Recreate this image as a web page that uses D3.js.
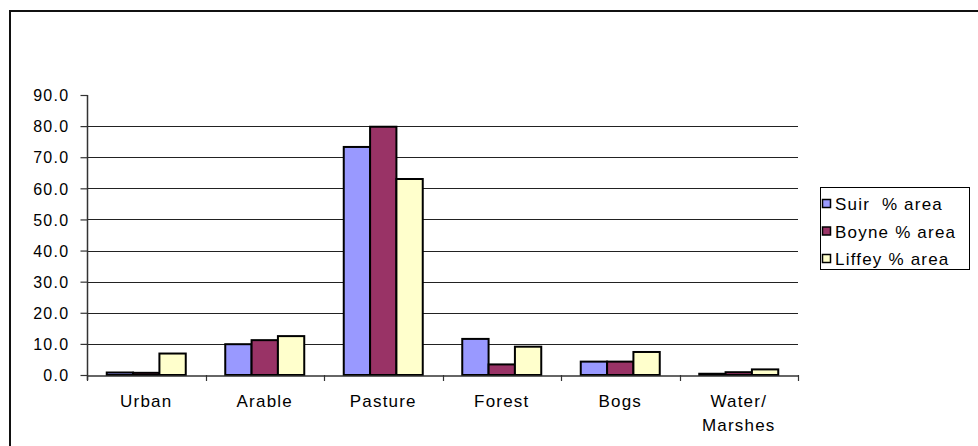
<!DOCTYPE html>
<html lang="en">
<head>
    <meta charset="UTF-8">
    <title>land use</title>
    <style>
        body{
            margin:0px;
            background-color: #fff;
        }
        svg{ display:block; }
        text{ font-family: "Liberation Sans", Arial, sans-serif; fill:#000; }
    </style>
</head>
<body>
    <svg></svg>
    <script src="https://d3js.org/d3.v7.min.js"></script>
    <script>
        // Data
        var categories = ["Urban", "Arable", "Pasture", "Forest", "Bogs", "Water/\nMarshes"];
        var seriesNames = ["Suir  % area", "Boyne % area", "Liffey % area"];
        var suir   = [0.8, 9.9, 73.3, 11.6, 4.3, 0.4];
        var boyne  = [0.7, 11.2, 79.8, 3.4, 4.3, 0.9];
        var liffey = [6.9, 12.5, 63.0, 9.1, 7.4, 1.8];
        var yTicks = [0, 10, 20, 30, 40, 50, 60, 70, 80, 90];
        var colors = ["#9999ff", "#993366", "#ffffcc"];

        var series = [suir, boyne, liffey];

        let svg = d3.select("svg")
            .attr("width", 978)
            .attr("height", 446);

        // outer chart frame
        svg.append("rect")
            .attr("x", 10).attr("y", 11)
            .attr("width", 1000).attr("height", 500)
            .attr("fill", "none")
            .attr("stroke", "#111")
            .attr("stroke-width", 2);

        const plotL = 87, plotR = 798, plotT = 95, plotB = 375;

        var x = d3.scaleBand()
            .domain(categories)
            .range([plotL, plotR]);

        var x1 = d3.scaleBand()
            .domain([0, 1, 2])
            .range([0, x.bandwidth()])
            .paddingInner(0)
            .paddingOuter(0.75);

        var y = d3.scaleLinear()
            .domain([0, 90])
            .range([plotB, plotT]);

        // gridlines (none at the top value)
        svg.append("g")
            .selectAll("line")
            .data(yTicks.filter(d => d > 0 && d < 90))
            .enter()
            .append("line")
            .attr("x1", plotL).attr("x2", plotR)
            .attr("y1", d => Math.round(y(d)) + 0.5)
            .attr("y2", d => Math.round(y(d)) + 0.5)
            .attr("stroke", "#222")
            .attr("stroke-width", 1);

        // bars
        var groups = svg.append("g")
            .selectAll("g")
            .data(categories)
            .enter()
            .append("g")
            .attr("transform", d => "translate(" + x(d) + ",0)");

        groups.selectAll("rect")
            .data((d, i) => series.map((s, j) => ({ v: s[i], j: j })))
            .enter()
            .append("rect")
            .attr("x", d => x1(d.j))
            .attr("width", x1.bandwidth())
            .attr("y", d => y(d.v))
            .attr("height", d => plotB - y(d.v))
            .attr("fill", d => colors[d.j])
            .attr("stroke", "#000")
            .attr("stroke-width", 2);

        // y axis
        var yAxis = svg.append("g")
            .attr("transform", "translate(" + (plotL + 0.5) + ",0)")
            .call(d3.axisLeft(y).tickValues(yTicks).tickSize(7).tickPadding(11)
                .tickFormat(d3.format(".1f")));
        yAxis.select(".domain").attr("stroke", "#333").attr("stroke-width", 1.5)
            .attr("d", "M0," + plotT + "V" + (plotB + 5));
        yAxis.selectAll(".tick line").attr("stroke", "#333").attr("stroke-width", 1.2);
        yAxis.selectAll("text")
            .attr("font-size", 16)
            .attr("font-family", "Liberation Sans, Arial, sans-serif")
            .attr("dy", "0.36em")
            .style("letter-spacing", "1.3px");

        // x axis line
        var xAxis = svg.append("g")
            .attr("transform", "translate(0," + (plotB + 0.5) + ")")
            .call(d3.axisBottom(x).tickSize(0).tickFormat(""));
        xAxis.select(".domain").attr("stroke", "#333").attr("stroke-width", 1.5);
        xAxis.selectAll(".tick").remove();

        // category boundary ticks
        var ticksAt = d3.range(categories.length + 1).map(i => plotL + i * x.step());
        svg.append("g")
            .selectAll("line")
            .data(ticksAt)
            .enter()
            .append("line")
            .attr("x1", d => Math.round(d) + 0.5).attr("x2", d => Math.round(d) + 0.5)
            .attr("y1", plotB).attr("y2", plotB + 6)
            .attr("stroke", "#333")
            .attr("stroke-width", 1.2);

        // category labels
        var labels = svg.append("g")
            .selectAll("text")
            .data(categories)
            .enter()
            .append("text")
            .attr("text-anchor", "middle")
            .attr("font-size", 17)
            .style("letter-spacing", "1.2px")
            .attr("x", d => x(d) + x.bandwidth() / 2)
            .attr("y", 407);
        labels.each(function(d) {
            var parts = d.split("\n");
            var t = d3.select(this);
            parts.forEach((p, i) => {
                t.append("tspan")
                    .attr("x", x(d) + x.bandwidth() / 2)
                    .attr("dy", i === 0 ? 0 : 24)
                    .text(p);
            });
        });

        // legend
        var legend = svg.append("g").attr("transform", "translate(820,187)");
        legend.append("rect")
            .attr("x", 0.5).attr("y", 0.5)
            .attr("width", 149).attr("height", 82)
            .attr("fill", "#fff")
            .attr("stroke", "#000");
        var items = legend.selectAll("g.item")
            .data(seriesNames)
            .enter()
            .append("g")
            .attr("transform", (d, i) => "translate(0," + (23 + i * 27.5) + ")");
        items.append("rect")
            .attr("x", 2.5).attr("y", -10.5)
            .attr("width", 8).attr("height", 8)
            .attr("fill", (d, i) => colors[i])
            .attr("stroke", "#000")
            .attr("stroke-width", 1.5);
        items.append("text")
            .attr("x", 15)
            .attr("y", 0)
            .attr("font-size", 17)
            .style("letter-spacing", "1.2px")
            .style("white-space", "pre")
            .text(d => d);
    </script>
</body>
</html>
